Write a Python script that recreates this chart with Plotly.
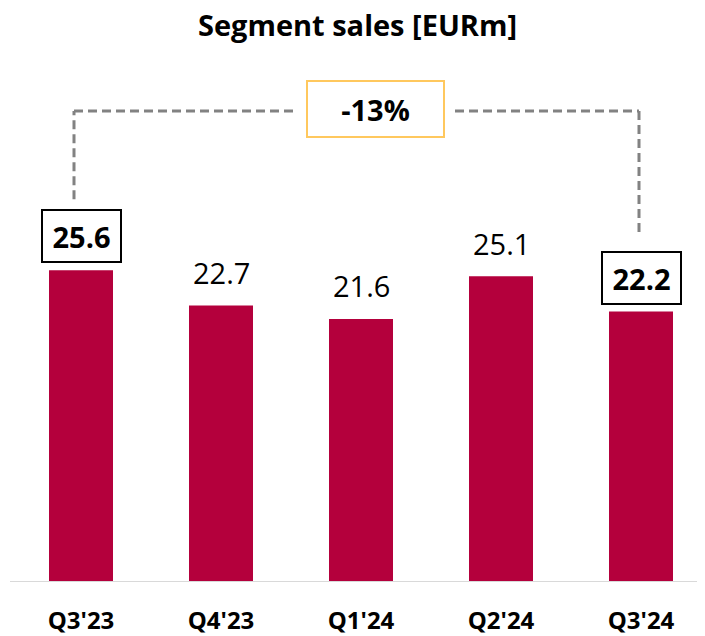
import plotly.graph_objects as go

quarters = ["Q3'23", "Q4'23", "Q1'24", "Q2'24", "Q3'24"]
sales = [25.6, 22.7, 21.6, 25.1, 22.2]
boxed = [True, False, False, False, True]

# the page body has an 8px margin, so the figure starts at (8, 8) of the window
PAGE_MARGIN = 8
W, H = 705 - PAGE_MARGIN, 636 - PAGE_MARGIN
TOP = 50                    # room for the title
BASELINE_PX = 582           # baseline row in the window
BOTTOM = H + PAGE_MARGIN - BASELINE_PX
PX_PER_UNIT = 12.18         # vertical scale, px per EURm
X0_PX, STEP_PX = 81, 140    # window column of the first bar centre, bar spacing

BAR_COLOR = "#B4003C"
DASH_COLOR = "#828282"
FONT = "Open Sans"


def py(px_from_top):
    # window row -> data y
    return (BASELINE_PX - px_from_top) / PX_PER_UNIT


def px_x(px):
    # window column -> data x
    return (px - X0_PX) / STEP_PX


x = list(range(len(quarters)))

fig = go.Figure(
    go.Bar(
        x=x,
        y=sales,
        width=64 / STEP_PX,
        marker=dict(color=BAR_COLOR, line=dict(width=0)),
        hoverinfo="skip",
    )
)

# value labels, first and last one boxed
for i, v in enumerate(sales):
    if boxed[i]:
        fig.add_annotation(
            x=i, y=v, yshift=34, text=f"<b>{v:.1f}</b>", showarrow=False,
            font=dict(family=FONT, size=29, color="black"),
            bordercolor="black", borderwidth=2, borderpad=0,
            width=77, height=50, bgcolor="white", yanchor="middle",
        )
    else:
        fig.add_annotation(
            x=i, y=v, yshift=33, text=f"{v:.1f}", showarrow=False,
            font=dict(family=FONT, size=29, color="black"), yanchor="middle",
        )

# dashed bracket from first to last bar
change = sales[-1] / sales[0] - 1
top_y = py(111)
left_x, right_x = px_x(74), px_x(639)
dash = dict(color=DASH_COLOR, width=3, dash="9px,5px")
fig.add_shape(type="line", x0=left_x, x1=left_x,
              y0=sales[0] + 71 / PX_PER_UNIT, y1=top_y, line=dash)
fig.add_shape(type="line", x0=left_x, x1=px_x(295), y0=top_y, y1=top_y, line=dash)
fig.add_shape(type="line", x0=px_x(455), x1=right_x, y0=top_y, y1=top_y, line=dash)
fig.add_shape(type="line", x0=right_x, x1=right_x,
              y0=top_y, y1=sales[-1] + 79 / PX_PER_UNIT, line=dash)
fig.add_annotation(
    x=px_x(375.5), y=py(109), text=f"<b>{change * 100:.0f}%</b>", showarrow=False,
    font=dict(family=FONT, size=29, color="black"),
    bordercolor="#FFC85E", borderwidth=2, borderpad=0,
    width=135, height=54, bgcolor="white",
)

# baseline
fig.add_shape(type="line", xref="x", yref="y", x0=px_x(10), x1=px_x(705), y0=0, y1=0,
              line=dict(color="#D9D9D9", width=2))

fig.update_layout(
    width=W,
    height=H,
    margin=dict(l=0, r=0, t=TOP, b=BOTTOM),
    plot_bgcolor="white",
    paper_bgcolor="white",
    showlegend=False,
    title=dict(
        text="<b>Segment sales [EURm]</b>",
        x=(357.5 - PAGE_MARGIN) / W, xanchor="center",
        yref="container", y=1 - (26 - PAGE_MARGIN) / H, yanchor="middle",
        font=dict(family=FONT, size=29, color="black"),
    ),
)
fig.update_xaxes(
    range=[px_x(PAGE_MARGIN), px_x(705)],
    tickvals=x,
    ticktext=[f"<b>{q}</b>" for q in quarters],
    tickfont=dict(family=FONT, size=24, color="black"),
    ticklabelstandoff=22,
    showgrid=False, zeroline=False, showline=False, ticks="",
)
fig.update_yaxes(
    range=[0, py(PAGE_MARGIN + TOP)],
    visible=False, showgrid=False, zeroline=False,
)

fig.write_html("out.html")
